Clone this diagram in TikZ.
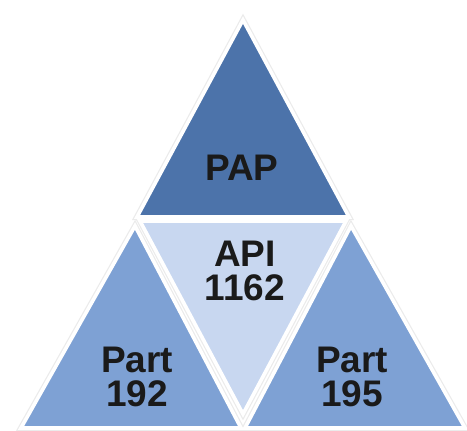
\documentclass[tikz,border=0pt]{standalone}
\usepackage{fontspec}
\setmainfont{Liberation Sans}
\definecolor{topblue}{RGB}{76,115,170}
\definecolor{midblue}{RGB}{200,215,240}
\definecolor{sideblue}{RGB}{126,161,212}
\definecolor{labelink}{RGB}{26,26,26}
\definecolor{groundgray}{RGB}{150,158,168}
\tikzset{
  tri/.style={line width=3.6pt, draw=white, line join=miter, miter limit=20},
  trishadow/.style={line width=6pt, draw=black!8, line join=miter, miter limit=20},
  lbl/.style={font=\bfseries\fontsize{37}{34}\selectfont, text=labelink, align=center, inner sep=0pt}
}
\begin{document}
\begin{tikzpicture}[x=1pt,y=-1pt]
\useasboundingbox (0,0) rectangle (467,431);
% ground line under the base
\fill[groundgray] (20,427.5) rectangle (463,431);
\fill[black!18] (20,426.5) rectangle (463,427.5);
% corner points of the four triangles
\coordinate (tA) at (243,20);  \coordinate (tL) at (137,217); \coordinate (tR) at (349,217);
\coordinate (cL) at (140,221); \coordinate (cR) at (346,221); \coordinate (cB) at (243,414);
\coordinate (lA) at (135,226); \coordinate (lL) at (21,428);  \coordinate (lR) at (241,428);
\coordinate (rA) at (351,226); \coordinate (rL) at (245,428); \coordinate (rR) at (465,428);
% soft shadows
\draw[trishadow] (tA) -- (tL) -- (tR) -- cycle;
\draw[trishadow] (cL) -- (cR) -- (cB) -- cycle;
\draw[trishadow] (lA) -- (lL) -- (lR) -- cycle;
\draw[trishadow] (rA) -- (rL) -- (rR) -- cycle;
% triangles
\filldraw[tri, fill=topblue]  (tA) -- (tL) -- (tR) -- cycle;
\filldraw[tri, fill=midblue]  (cL) -- (cR) -- (cB) -- cycle;
\filldraw[tri, fill=sideblue] (lA) -- (lL) -- (lR) -- cycle;
\filldraw[tri, fill=sideblue] (rA) -- (rL) -- (rR) -- cycle;
% labels
\node[lbl] (pap)  at (242,167.5) {PAP};
\node[lbl] (api)  at (245,270.5) {API\\1162};
\node[lbl] (p192) at (137,377) {Part\\192};
\node[lbl] (p195) at (352,377) {Part\\195};
\end{tikzpicture}
\end{document}
